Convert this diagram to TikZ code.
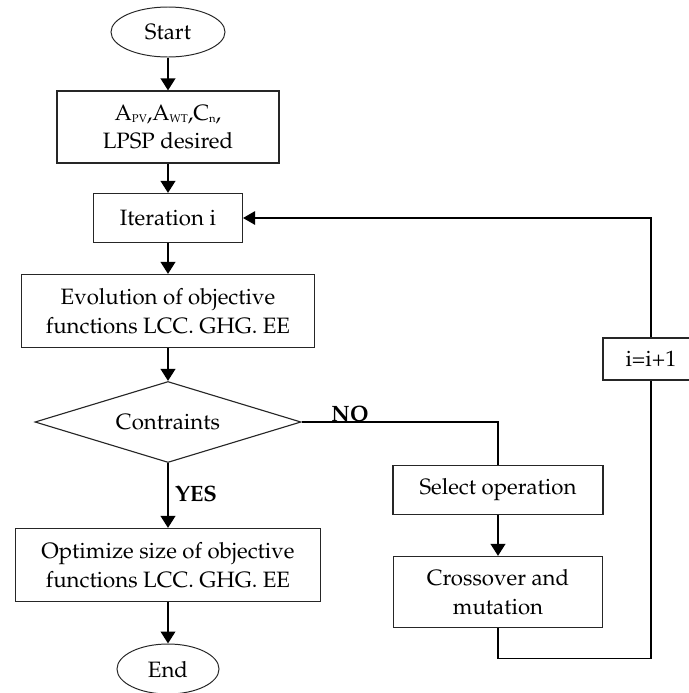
\documentclass[tikz,border=0pt]{standalone}
\usepackage[T1]{fontenc}
\usepackage{mathpazo}
\usepackage{tikz}
\usetikzlibrary{positioning,shapes.geometric,arrows.meta}

\newcommand{\lowtxt}[1]{\raisebox{-0.25ex}{\footnotesize #1}}

\begin{document}
\begin{tikzpicture}[
    x=0.025cm, y=-0.025cm,
    font=\fontsize{15.8pt}{20.5pt}\selectfont,
    term/.style = {ellipse, draw=black!85, line width=0.7pt, inner sep=0pt},
    proc/.style = {rectangle, draw=black!85, line width=0.8pt, align=center, inner sep=0pt},
    dec/.style  = {diamond, draw=black!85, line width=0.8pt, inner sep=0pt, aspect=3.3},
    arr/.style  = {-{Triangle[length=3mm,width=3.6mm]}, line width=1.8pt},
    back/.style = {-{Triangle[length=3mm,width=3.4mm]}, line width=0.8pt},
    link/.style = {line width=0.8pt},
    lbl/.style  = {font=\fontsize{15.8pt}{18pt}\selectfont\bfseries, inner sep=0pt},
]
\useasboundingbox (0,0) rectangle (689,693);

%======== main column ========
\node[term, minimum width=2.85cm, minimum height=1.25cm] (start) at (168,32) {Start};
\node[proc, minimum width=5.55cm, minimum height=1.8cm] (inp) at (168,127)
  {A\lowtxt{PV},A\lowtxt{WT},C\lowtxt{n},\\LPSP desired};
\node[proc, minimum width=3.725cm, minimum height=1.225cm] (iter) at (168,218) {Iteration i};
\node[proc, minimum width=7.325cm, minimum height=1.825cm] (eval) at (168,311)
  {Evolution of objective\\functions LCC. GHG. EE};
\node[dec, minimum width=6.65cm, minimum height=2.025cm] (cons) at (168,422) {Contraints};
\node[proc, minimum width=7.625cm, minimum height=1.825cm] (opt) at (168,565)
  {Optimize size of objective\\functions LCC. GHG. EE};
\node[term, minimum width=2.55cm, minimum height=1.25cm] (fin) at (168,669) {End};

%======== right branch ========
\node[proc, minimum width=5.25cm, minimum height=1.225cm] (sel) at (498,490) {Select operation};
\node[proc, minimum width=5.225cm, minimum height=1.775cm] (cross) at (498,592)
  {Crossover and\\mutation};
\node[proc, minimum width=2.4cm, minimum height=1.05cm] (inc) at (651,359) {i=i+1};

% --- straight arrows
\draw[arr] (start) -- (inp);
\draw[arr] (inp) -- (iter);
\draw[arr] (iter) -- (eval);
\draw[arr] (eval) -- (cons);
\draw[arr] (cons) -- (opt);
\draw[arr] (opt) -- (fin);
\draw[arr] (sel) -- (cross);

% --- NO branch and loop back
\draw[link] (cons.east) -| (sel.north);
\draw[link] (cross.south) -- ++(0,30) -| (inc.south);
\draw[back] (inc.north) |- (iter.east);

% --- labels
\node[lbl] (yes) at (196,494) {YES};
\node[lbl] (no) at (350,414) {NO};

\end{tikzpicture}
\end{document}
